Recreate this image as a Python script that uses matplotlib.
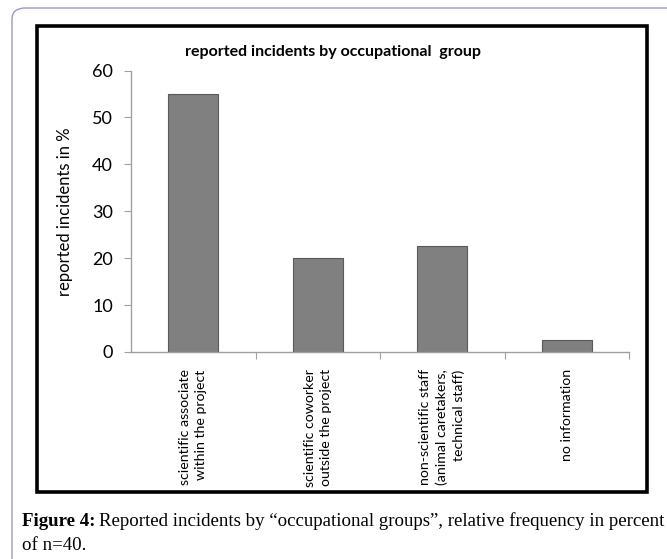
import matplotlib
matplotlib.use("Agg")
import matplotlib.pyplot as plt
from matplotlib.patches import Rectangle, FancyBboxPatch

categories = [
    "scientific associate\nwithin the project",
    "scientific coworker\noutside the project",
    "non-scientific staff\n(animal caretakers,\ntechnical staff)",
    "no information",
]
values = [55, 20, 22.5, 2.5]
yticks = [0, 10, 20, 30, 40, 50, 60]

W, H = 667, 559
fig = plt.figure(figsize=(W / 100, H / 100), dpi=100)
fig.patch.set_facecolor("white")

def fx(px):
    return px / W

def fy(py):
    return 1 - py / H

# outer rounded border
outer = FancyBboxPatch((fx(12), fy(580)), fx(700) - fx(12), fy(8) - fy(580),
                       boxstyle="round,pad=0,rounding_size=0.02",
                       transform=fig.transFigure, fill=False,
                       edgecolor="#9a98c8", linewidth=1.0, clip_on=False)
fig.patches.append(outer)

# black frame around the chart
frame = Rectangle((fx(37), fy(492)), fx(647) - fx(37), fy(26) - fy(492),
                  transform=fig.transFigure, fill=False,
                  edgecolor="black", linewidth=2.6)
fig.patches.append(frame)

font = "Lato"
ax = fig.add_axes([fx(131), fy(352), fx(629) - fx(131), fy(70.5) - fy(352)])
x = range(len(categories))
ax.bar(x, values, width=0.4, color="#808080", edgecolor="#5a5a5a", linewidth=0.8)
ax.set_xlim(-0.5, len(categories) - 0.5)
ax.set_ylim(0, 60)
ax.set_yticks(yticks)
ax.set_yticklabels([str(v) for v in yticks], fontfamily=font, fontsize=13)
ax.tick_params(axis="y", length=5, color="#a0a0a0", pad=8)
ax.set_xticks([i + 0.5 for i in x])
ax.set_xticklabels([])
ax.tick_params(axis="x", length=5, color="#a0a0a0", direction="out")
for s in ("top", "right"):
    ax.spines[s].set_visible(False)
for s in ("left", "bottom"):
    ax.spines[s].set_color("#a0a0a0")
    ax.spines[s].set_linewidth(1.0)

for i, lab in enumerate(categories):
    ax.text(i, -3.7, lab, rotation=90, ha="center", va="top",
            multialignment="right", fontfamily=font, fontsize=10.2,
            linespacing=1.4, transform=ax.transData)

ax.set_ylabel("reported incidents in %", fontfamily=font, fontsize=12, labelpad=14)
fig.text(fx(333), fy(52), "reported incidents by occupational  group",
         ha="center", va="center", fontfamily=font, fontweight="bold", fontsize=11.5)

# caption
fig.text(fx(22), fy(521), "Figure 4:", fontfamily="Liberation Serif",
         fontweight="bold", fontsize=13.6, va="center", ha="left")
fig.text(fx(99), fy(521),
         "Reported incidents by \u201coccupational groups\u201d, relative frequency in percent",
         fontfamily="Liberation Serif", fontsize=13.6, va="center", ha="left")
fig.text(fx(22), fy(545), "of n=40.", fontfamily="Liberation Serif",
         fontsize=13.6, va="center", ha="left")

fig.savefig("out.png", dpi=100)
